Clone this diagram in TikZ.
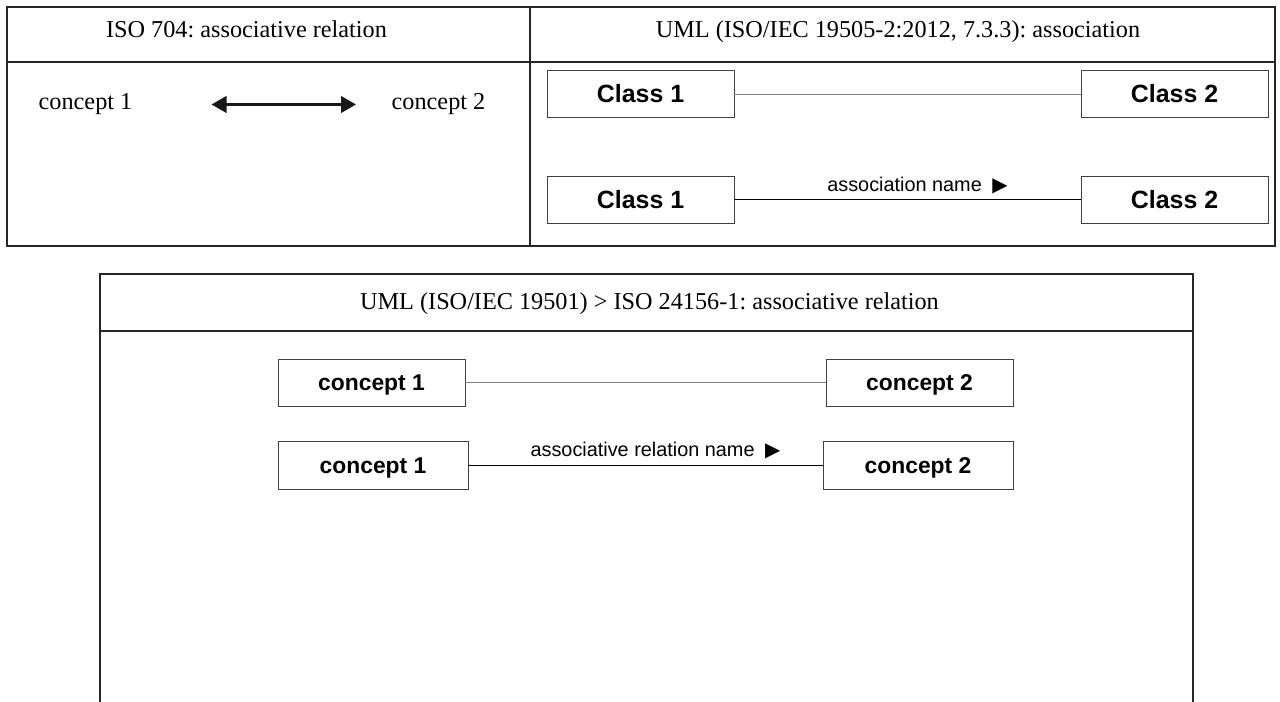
\documentclass[tikz,border=0pt]{standalone}
\usepackage{fontspec}
\setmainfont{Liberation Serif}
\newfontfamily\arialfont{Liberation Sans}
\newfontfamily\symbolfont{DejaVu Sans}
\usetikzlibrary{arrows.meta}
\definecolor{boxgray}{HTML}{404040}
\definecolor{linegray}{HTML}{808080}
\frenchspacing

\begin{document}
\begin{tikzpicture}[x=0.02cm,y=-0.02cm,
    frame/.style={line width=1.1pt,black!85},
    head/.style={anchor=base,font=\fontsize{13.8}{16}\selectfont},
    umlbox/.style={draw=boxgray,line width=0.5pt,minimum width=3.74cm,minimum height=0.94cm,
      inner sep=0pt,text height=10pt,text depth=0pt,font=\arialfont\bfseries\fontsize{14.2}{16}\selectfont},
    cptbox/.style={umlbox,text height=9.2pt,font=\arialfont\bfseries\fontsize{13}{15}\selectfont},
    relname/.style={above=4.6pt,xshift=0.2cm,inner sep=0pt,text depth=0pt,font=\arialfont\fontsize{11.3}{13}\selectfont},
    assoc/.style={{Triangle[length=0.3cm,width=0.33cm]}-{Triangle[length=0.3cm,width=0.33cm]},line width=1.4pt,black!90}]
  \useasboundingbox (0,0) rectangle (1280,702);
  % upper table
  \draw[frame] (7,7) rectangle (1275,246);
  \draw[frame] (7,62) -- (1275,62);
  \draw[frame] (530,7) -- (530,246);
  \node[head] (isohead) at (246.5,38) {ISO 704: associative relation};
  \node[head] (umlhead) at (898,38) {UML (ISO/IEC 19505-2:2012, 7.3.3): association};
  % ISO 704 cell
  \node[head] (con1) at (85.5,110) {concept 1};
  \node[head] (con2) at (438.5,110) {concept 2};
  \coordinate (arrl) at (211.5,104.5);
  \coordinate (arrr) at (356,104.5);
  \draw[assoc] (arrl) -- (arrr);
  % UML cell
  \node[umlbox] (cls1a) at (640.5,94) {Class 1};
  \node[umlbox] (cls2a) at (1174.5,94) {Class 2};
  \node[umlbox] (cls1b) at (640.5,199.5) {Class 1};
  \node[umlbox] (cls2b) at (1174.5,199.5) {Class 2};
  \draw[linegray] (cls1a) -- (cls2a);
  \draw (cls1b) -- node[relname] {association name\hspace{6pt}{\symbolfont ▶}} (cls2b);
  % lower table
  \draw[frame] (100,702) -- (100,274) -- (1193,274) -- (1193,702);
  \draw[frame] (100,331) -- (1193,331);
  \node[head] (lowhead) at (649.5,310) {UML (ISO/IEC 19501) > ISO 24156-1: associative relation};
  \node[cptbox] (cpt1a) at (371.5,382.5) {concept 1};
  \node[cptbox] (cpt2a) at (919.5,382.5) {concept 2};
  \node[cptbox,minimum width=3.8cm,minimum height=0.96cm] (cpt1b) at (373,465) {concept 1};
  \node[cptbox,minimum width=3.8cm,minimum height=0.96cm] (cpt2b) at (918,465) {concept 2};
  \draw[linegray] (cpt1a) -- (cpt2a);
  \draw (cpt1b) -- node[relname] {associative relation name\hspace{6pt}{\symbolfont ▶}} (cpt2b);
\end{tikzpicture}
\end{document}
